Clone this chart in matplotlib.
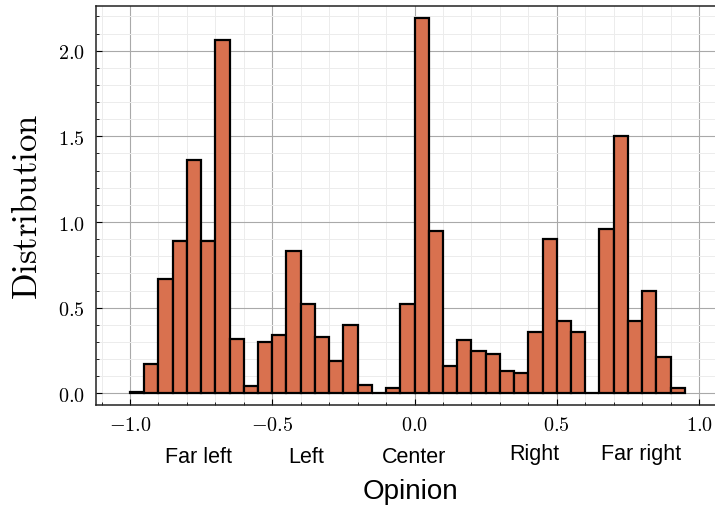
import numpy as np
import matplotlib
matplotlib.use("Agg")
import matplotlib.pyplot as plt
from matplotlib.ticker import MultipleLocator, FuncFormatter
import matplotlib.transforms as mtransforms

plt.rcParams['mathtext.fontset'] = 'cm'

# Histogram bins (left edges) and density values
bin_width = 0.05
bin_lefts = [-1.00, -0.95, -0.90, -0.85, -0.80, -0.75, -0.70, -0.65, -0.60, -0.55,
             -0.50, -0.45, -0.40, -0.35, -0.30, -0.25, -0.20, -0.15, -0.10, -0.05,
             0.00, 0.05, 0.10, 0.15, 0.20, 0.25, 0.30, 0.35, 0.40, 0.45,
             0.50, 0.55, 0.60, 0.65, 0.70, 0.75, 0.80, 0.85, 0.90]
density = [0.01, 0.17, 0.67, 0.89, 1.36, 0.89, 2.06, 0.32, 0.04, 0.30,
           0.34, 0.83, 0.52, 0.33, 0.19, 0.40, 0.05, 0.00, 0.03, 0.52,
           2.19, 0.95, 0.16, 0.31, 0.25, 0.23, 0.13, 0.12, 0.36, 0.90,
           0.42, 0.36, 0.00, 0.96, 1.50, 0.42, 0.60, 0.21, 0.03]

category_labels = ["Far left", "Left", "Center", "Right", "Far right"]
category_x = [-0.76, -0.38, 0.0, 0.42, 0.795]

W, H = 715, 506
fig = plt.figure(figsize=(W / 100, H / 100), dpi=100)
ax = fig.add_axes([96 / W, 1 - 406 / H, (715 - 96) / W, (406 - 7.3) / H])

ax.bar(bin_lefts, density, width=bin_width, align='edge',
       color='#d9714f', edgecolor='black', linewidth=1.6, zorder=3)

ax.set_xlim(-1.1195, 1.056)
ax.set_ylim(-0.068, 2.259)

ax.xaxis.set_major_locator(MultipleLocator(0.5))
ax.xaxis.set_minor_locator(MultipleLocator(0.1))
ax.yaxis.set_major_locator(MultipleLocator(0.5))
ax.yaxis.set_minor_locator(MultipleLocator(0.1))

fmt = FuncFormatter(lambda v, p: r'$%.1f$' % v if abs(v) > 1e-9 else r'$0.0$')
ax.xaxis.set_major_formatter(fmt)
ax.yaxis.set_major_formatter(fmt)

ax.grid(which='major', color='#a9a9a9', linewidth=0.8, zorder=0)
ax.grid(which='minor', color='#ececec', linewidth=0.7, zorder=0)
ax.set_axisbelow(True)

ax.tick_params(which='both', direction='in', top=False, right=False, color='black')
ax.tick_params(which='major', length=4, width=0.8, labelsize=14.5, pad=7)
ax.tick_params(which='minor', length=2.5, width=0.6)
ax.tick_params(axis='y', which='major', pad=8)

for s in ['left', 'bottom', 'top']:
    ax.spines[s].set_linewidth(1.1)
    ax.spines[s].set_color('#222222')
ax.spines['right'].set_visible(False)

ax.set_ylabel(r'$\mathrm{Distribution}$', fontsize=25)
ax.yaxis.set_label_coords((44 - 96) / (715 - 96), 0.5)

trans = mtransforms.blended_transform_factory(ax.transData, fig.transFigure)
baselines = [463, 463, 463, 460, 460]
for lab, x, b in zip(category_labels, category_x, baselines):
    ax.text(x, 1 - b / H, lab, transform=trans, ha='center', va='baseline',
            fontsize=15.5, family='Liberation Sans')

fig.text(410 / W, 1 - 499 / H, "Opinion", ha='center', va='baseline',
         fontsize=20, family='Liberation Sans')

fig.savefig("out.png", dpi=100)
